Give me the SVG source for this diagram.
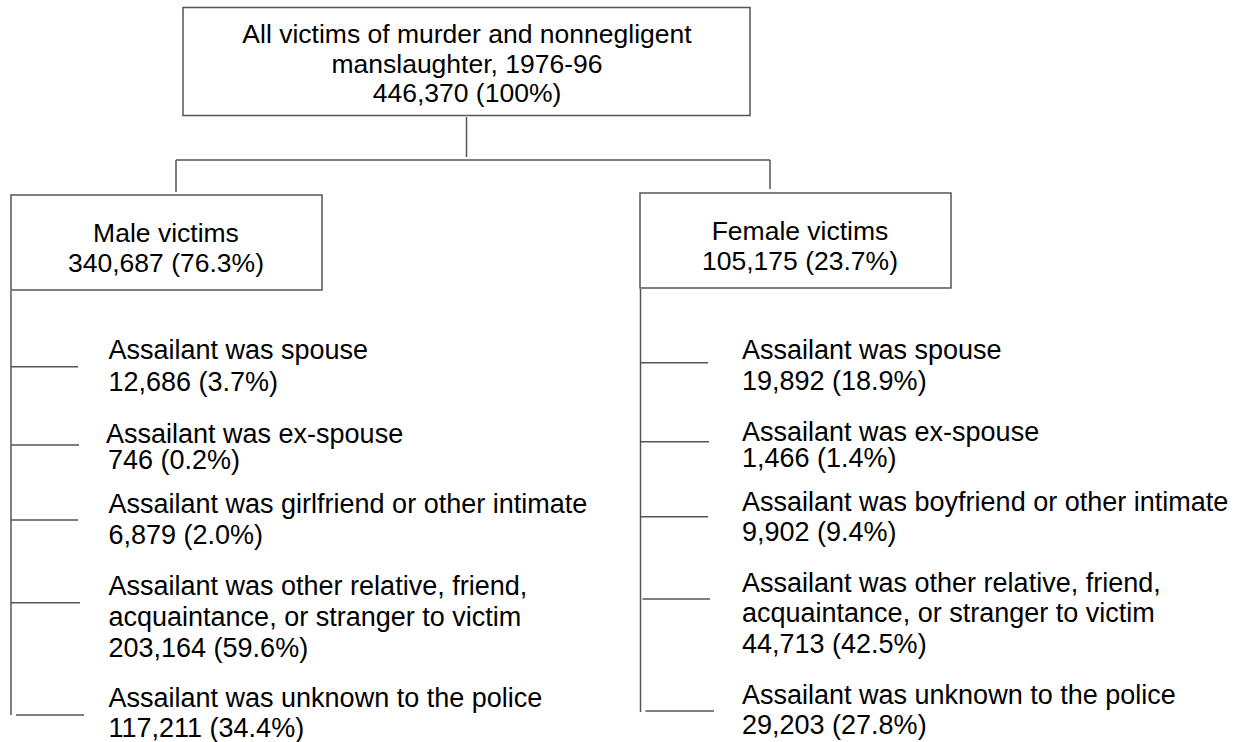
<svg xmlns="http://www.w3.org/2000/svg" width="1238" height="742" viewBox="0 0 1238 742">
<style>
.box{fill:#fff;stroke:#555;stroke-width:1.5}
.ln{fill:none;stroke:#555;stroke-width:1.5}
text{font-family:"Liberation Sans",Arial,sans-serif;font-size:26.5px;fill:#000}
.c{text-anchor:middle}
.b{font-size:27px}
</style>
<rect width="1238" height="742" fill="#fff"/>
<g id="connectors">
<path class="ln" d="M466.5,117V157M176,160H770M176,160V192M770,160V189"/>
<path class="ln" d="M11,291V715M11,366.7H78M11,445H79M11,520H78M11,602.7H80M16,715H84"/>
<path class="ln" d="M640.5,289V712M640.5,362.7H708M640.5,441.7H709M640.5,516.7H708M642.5,599H710M645.5,711H714"/>
</g>
<g id="root">
<rect class="box" x="183" y="7.5" width="567" height="108"/>
<text class="c" x="467" y="43">All victims of murder and nonnegligent</text>
<text class="c" x="467" y="72.5">manslaughter, 1976-96</text>
<text class="c" x="467" y="101.5">446,370 (100%)</text>
</g>
<g id="male">
<rect class="box" x="11" y="195" width="311" height="95"/>
<text class="c" x="166" y="242">Male victims</text>
<text class="c" x="166" y="272">340,687 (76.3%)</text>
</g>
<g id="female">
<rect class="box" x="640" y="193" width="311" height="95"/>
<text class="c" x="800" y="240">Female victims</text>
<text class="c" x="800" y="270">105,175 (23.7%)</text>
</g>
<g id="m1" class="b"><text class="b" x="108.5" y="359">Assailant was spouse</text><text class="b" x="108.5" y="390.5">12,686 (3.7%)</text></g>
<g id="m2"><text class="b" x="106" y="443">Assailant was ex-spouse</text><text class="b" x="108" y="468.5">746 (0.2%)</text></g>
<g id="m3"><text class="b" x="108.5" y="512.5">Assailant was girlfriend or other intimate</text><text class="b" x="108.5" y="544">6,879 (2.0%)</text></g>
<g id="m4"><text class="b" x="108.5" y="595">Assailant was other relative, friend,</text><text class="b" x="108.5" y="626">acquaintance, or stranger to victim</text><text class="b" x="108.5" y="656.5">203,164 (59.6%)</text></g>
<g id="m5"><text class="b" x="108.5" y="706.5">Assailant was unknown to the police</text><text class="b" x="108.5" y="736.5">117,211 (34.4%)</text></g>
<g id="f1"><text class="b" x="742" y="358.5">Assailant was spouse</text><text class="b" x="742" y="390">19,892 (18.9%)</text></g>
<g id="f2"><text class="b" x="742" y="440.5">Assailant was ex-spouse</text><text class="b" x="742" y="466.5">1,466 (1.4%)</text></g>
<g id="f3"><text class="b" x="742" y="510.5">Assailant was boyfriend or other intimate</text><text class="b" x="742" y="541">9,902 (9.4%)</text></g>
<g id="f4"><text class="b" x="742" y="592">Assailant was other relative, friend,</text><text class="b" x="742" y="622">acquaintance, or stranger to victim</text><text class="b" x="742" y="653">44,713 (42.5%)</text></g>
<g id="f5"><text class="b" x="742" y="703.5">Assailant was unknown to the police</text><text class="b" x="742" y="733.5">29,203 (27.8%)</text></g>
</svg>
